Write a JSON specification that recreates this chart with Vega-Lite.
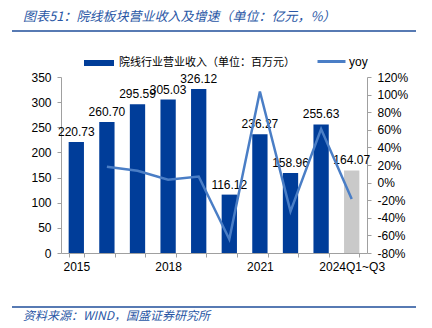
{
  "$schema": "https://vega.github.io/schema/vega-lite/v6.json",
  "background": "white",
  "padding": {"left": 11, "right": 4, "top": 10, "bottom": 0},
  "config": {"view": {"stroke": null}, "font": "Liberation Sans"},
  "columns": 1,
  "align": "each",
  "bounds": "flush",
  "center": true,
  "spacing": 6,
  "resolve": {"legend": {"color": "independent", "stroke": "independent"}},
  "concat": [
    {
      "width": 404,
      "height": 40,
      "view": {"stroke": "#1F4E9A", "strokeWidth": 1.5, "strokeDash": [404, 4000]},
      "title": {"text": "图表51：院线板块营业收入及增速（单位：亿元，%）", "anchor": "start", "dx": 11, "font": "Noto Sans CJK SC", "fontSize": 13, "fontStyle": "italic", "fontWeight": "normal", "color": "#2A57A5", "baseline": "bottom", "offset": -6},
      "data": {"values": [{}]},
      "mark": {"type": "text", "text": ""}
    },
    {
      "width": 306,
      "height": 176,
      "data": {"values": [
        {"year": "2015", "rev": 220.73, "yoy": null, "s": "院线行业营业收入（单位：百万元）", "l": "yoy"},
        {"year": "2016", "rev": 260.70, "yoy": 18.1, "s": "院线行业营业收入（单位：百万元）", "l": "yoy"},
        {"year": "2017", "rev": 295.59, "yoy": 13.4, "s": "院线行业营业收入（单位：百万元）", "l": "yoy"},
        {"year": "2018", "rev": 305.03, "yoy": 3.2, "s": "院线行业营业收入（单位：百万元）", "l": "yoy"},
        {"year": "2019", "rev": 326.12, "yoy": 6.9, "s": "院线行业营业收入（单位：百万元）", "l": "yoy"},
        {"year": "2020", "rev": 116.12, "yoy": -64.4, "s": "院线行业营业收入（单位：百万元）", "l": "yoy"},
        {"year": "2021", "rev": 236.27, "yoy": 103.5, "s": "院线行业营业收入（单位：百万元）", "l": "yoy"},
        {"year": "2022", "rev": 158.96, "yoy": -32.7, "s": "院线行业营业收入（单位：百万元）", "l": "yoy"},
        {"year": "2023", "rev": 255.63, "yoy": 60.8, "s": "院线行业营业收入（单位：百万元）", "l": "yoy"},
        {"year": "2024Q1~Q3", "rev": 164.07, "yoy": -18.5, "s": "院线行业营业收入（单位：百万元）", "l": "yoy"}
      ]},
      "encoding": {
        "x": {
          "field": "year", "type": "ordinal", "sort": null,
          "scale": {"paddingInner": 0.5, "paddingOuter": 0.25},
          "axis": {
            "title": null, "labelAngle": 0, "grid": false,
            "labelExpr": "indexof(['2015','2018','2021','2024Q1~Q3'], datum.value) >= 0 ? datum.value : ''",
            "tickBand": "extent", "domainColor": "#A0A0A0", "tickColor": "#A0A0A0", "tickSize": 4,
            "labelFont": "Liberation Sans", "labelFontSize": 12, "labelColor": "#000000", "labelPadding": 4
          }
        }
      },
      "layer": [
        {
          "encoding": {
            "y": {
              "field": "rev", "type": "quantitative",
              "scale": {"domain": [0, 350], "nice": false},
              "axis": {
                "title": null, "grid": false, "values": [0, 50, 100, 150, 200, 250, 300, 350],
                "domainColor": "#A0A0A0", "tickColor": "#A0A0A0", "tickSize": 4, "labelPadding": 6,
                "labelFont": "Liberation Sans", "labelFontSize": 12, "labelColor": "#000000"
              }
            }
          },
          "layer": [
            {
              "mark": {"type": "bar"},
              "encoding": {
                "color": {
                  "field": "s", "type": "nominal",
                  "scale": {"range": ["#003D99"]},
                  "condition": {"test": "datum.year === '2024Q1~Q3'", "value": "#C9C9C9"},
                  "legend": {
                    "title": null, "orient": "none", "legendX": 20, "legendY": -32,
                    "symbolType": "stroke", "symbolSize": 900, "symbolStrokeWidth": 6, "symbolStrokeColor": "#003D99",
                    "labelFont": "Noto Sans CJK SC", "labelFontSize": 11, "labelColor": "#000000", "labelOffset": 2, "labelLimit": 400
                  }
                }
              }
            },
            {
              "mark": {"type": "text", "baseline": "bottom", "dy": -3, "font": "Liberation Sans", "fontSize": 12, "color": "#000000"},
              "encoding": {"text": {"field": "rev", "type": "quantitative", "format": ".2f"}}
            }
          ]
        },
        {
          "mark": {"type": "line", "strokeWidth": 2.5},
          "encoding": {
            "y": {
              "field": "yoy", "type": "quantitative",
              "scale": {"domain": [-80, 120], "nice": false},
              "axis": {
                "title": null, "grid": false, "orient": "right",
                "values": [-80, -60, -40, -20, 0, 20, 40, 60, 80, 100, 120],
                "labelExpr": "datum.value + '%'",
                "domainColor": "#A0A0A0", "tickColor": "#A0A0A0", "tickSize": 4, "labelPadding": 6,
                "labelFont": "Liberation Sans", "labelFontSize": 12, "labelColor": "#000000"
              }
            },
            "stroke": {
              "field": "l", "type": "nominal",
              "scale": {"range": ["#4A7EC6"]},
              "legend": {
                "title": null, "orient": "none", "legendX": 255, "legendY": -31,
                "symbolType": "stroke", "symbolSize": 784, "symbolStrokeWidth": 3,
                "labelFont": "Liberation Sans", "labelFontSize": 12, "labelColor": "#000000", "labelOffset": 2
              }
            }
          }
        }
      ],
      "resolve": {"scale": {"y": "independent"}}
    },
    {
      "width": 404,
      "height": 48,
      "view": {"stroke": "#1F4E9A", "strokeWidth": 1.5, "strokeDash": [0, 452, 404, 4000]},
      "title": {"text": "资料来源：WIND，国盛证券研究所", "orient": "bottom", "anchor": "start", "dx": 11, "font": "Noto Sans CJK SC", "fontSize": 12, "fontStyle": "italic", "fontWeight": "normal", "color": "#2A57A5", "baseline": "top", "offset": 4},
      "data": {"values": [{}]},
      "mark": {"type": "text", "text": ""}
    }
  ]
}
